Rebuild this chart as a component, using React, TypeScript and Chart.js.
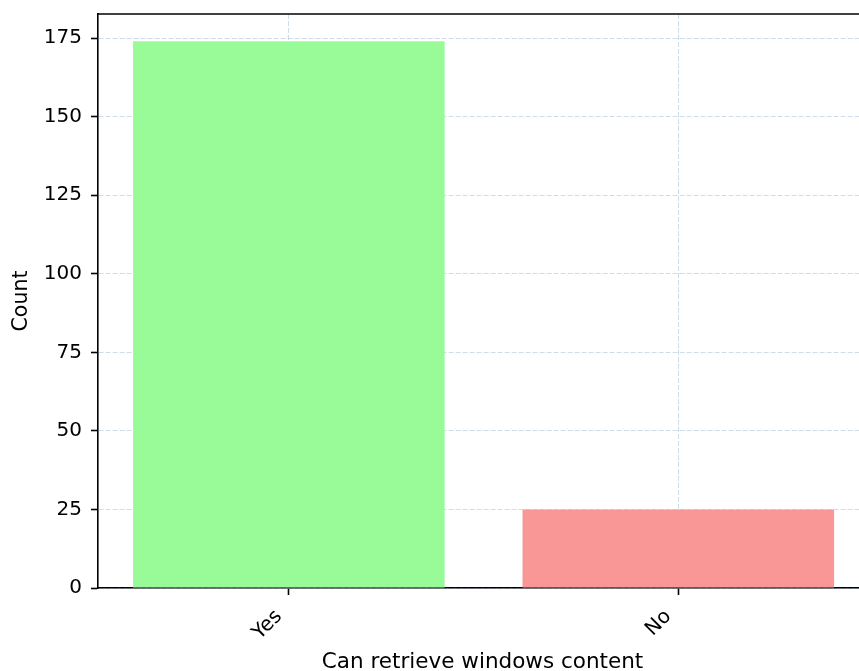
import React, { useEffect, useRef } from "react";
import { Chart, registerables } from "chart.js";

Chart.register(...registerables);

const categories: string[] = ["Yes", "No"];
const counts: number[] = [174, 25];
const barColors: string[] = ["#98fb98", "rgb(249,150,150)"];
const yTickValues: number[] = [0, 25, 50, 75, 100, 125, 150, 175];
const xTitle = "Can retrieve windows content";
const yTitle = "Count";

const FONT = "'DejaVu Sans', sans-serif";
const GRID_COLOR = "rgba(160,188,215,0.5)";

// Top spine of the plot frame and the x-axis title, centred on the full axes width.
const frameAndTitle = {
  id: "frameAndTitle",
  afterDraw(chart: Chart) {
    const { ctx, chartArea } = chart;
    ctx.save();
    ctx.strokeStyle = "#000";
    ctx.lineWidth = 1.6;
    ctx.beginPath();
    ctx.moveTo(chartArea.left, chartArea.top);
    ctx.lineTo(chartArea.right + 2, chartArea.top);
    ctx.stroke();

    const xs: any = chart.scales.x;
    const left = xs.getPixelForValue(-0.49);
    const right = xs.getPixelForValue(1.49);
    ctx.fillStyle = "#000";
    ctx.font = `21.5px ${FONT}`;
    ctx.textAlign = "center";
    ctx.textBaseline = "alphabetic";
    ctx.fillText(xTitle, (left + right) / 2 - 1, 668);
    ctx.restore();
  },
};

export default function App() {
  const canvasRef = useRef<HTMLCanvasElement | null>(null);

  useEffect(() => {
    document.body.style.margin = "0";
    const canvas = canvasRef.current;
    if (!canvas) return;

    const chart = new Chart(canvas, {
      type: "bar",
      data: {
        datasets: [
          {
            data: counts.map((c, i) => ({ x: i, y: c })),
            backgroundColor: barColors,
            borderWidth: 0,
            barPercentage: 0.8,
            categoryPercentage: 1,
          },
        ],
      },
      plugins: [frameAndTitle],
      options: {
        animation: false,
        responsive: false,
        events: [],
        layout: { padding: { top: 14, right: 0, bottom: 0, left: 0 } },
        plugins: {
          legend: { display: false },
          tooltip: { enabled: false },
        },
        scales: {
          x: {
            type: "linear",
            min: -0.49,
            max: 1.464,
            bounds: "data",
            offset: false,
            z: 1,
            afterFit: (scale: any) => {
              scale.height = 83;
              scale.paddingLeft = 0;
              scale.paddingRight = 0;
            },
            afterBuildTicks: (scale: any) => {
              scale.ticks = categories.map((_, i) => ({ value: i }));
            },
            ticks: {
              autoSkip: false,
              minRotation: 45,
              maxRotation: 45,
              padding: 10,
              labelOffset: -10,
              color: "#000",
              font: { family: FONT, size: 20 },
              callback: (v: any) => categories[Number(v)] ?? "",
            },
            grid: {
              offset: false,
              color: GRID_COLOR,
              lineWidth: 1,
              tickLength: 7,
              tickWidth: 1.6,
              tickColor: "#000",
              tickBorderDash: [],
            },
            border: { display: true, color: "#000", width: 1.6, dash: [5, 2] },
            title: { display: false },
          },
          y: {
            type: "linear",
            min: 0,
            max: 182.7,
            z: 1,
            afterFit: (scale: any) => {
              scale.width = 98;
              scale.paddingTop = 0;
              scale.paddingBottom = 0;
            },
            afterBuildTicks: (scale: any) => {
              scale.ticks = yTickValues.map((v) => ({ value: v }));
            },
            ticks: {
              padding: 9,
              color: "#000",
              font: { family: FONT, size: 20 },
            },
            grid: {
              offset: false,
              color: GRID_COLOR,
              lineWidth: 1,
              tickLength: 7,
              tickWidth: 1.6,
              tickColor: "#000",
              tickBorderDash: [],
            },
            border: { display: true, color: "#000", width: 1.6, dash: [5, 2] },
            title: {
              display: true,
              text: yTitle,
              color: "#000",
              font: { family: FONT, size: 20.5 },
              padding: { top: 9, bottom: 0 },
            },
          },
        },
      },
    });

    return () => chart.destroy();
  }, []);

  return <canvas ref={canvasRef} width={859} height={671} style={{ display: "block" }} />;
}
